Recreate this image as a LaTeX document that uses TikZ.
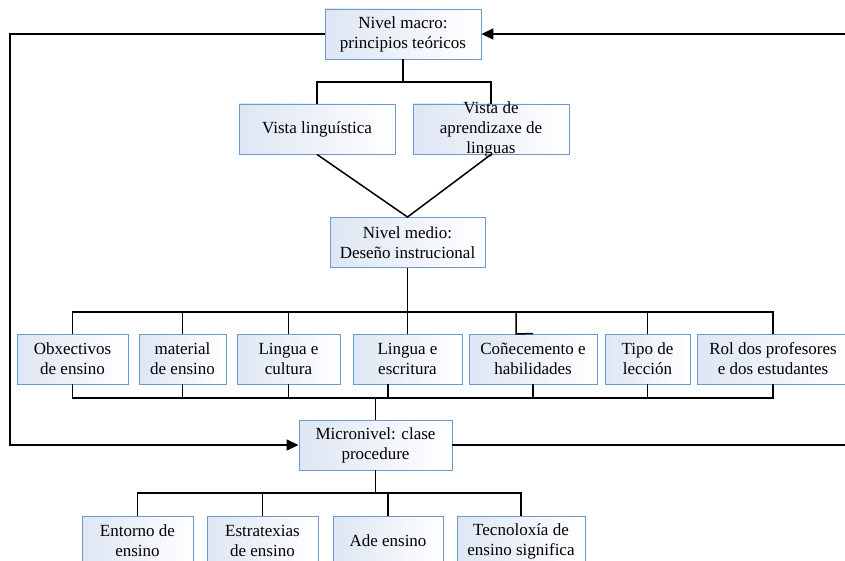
\documentclass[tikz,border=0pt]{standalone}
\usepackage{fontspec}
\setmainfont{Liberation Serif}
\usetikzlibrary{arrows.meta}
\definecolor{boxline}{HTML}{6A9AD0}
\definecolor{boxfill}{HTML}{DDE6F3}

\begin{document}
\begin{tikzpicture}
    [   x=1pt,y=-1pt,
        bfont/.style={font=\fontsize{17pt}{20pt}\selectfont},
        bnode/.style={draw=boxline,line width=0.9pt,left color=boxfill,right color=white,
            minimum width=#1,minimum height=50pt,inner sep=0pt,align=center,bfont},
        conn/.style={draw=black,line width=1.5pt},
        flow/.style={conn,-{Triangle[length=12pt,width=11pt]}},
    ]
        \useasboundingbox (0,0) rectangle (845,561);
        % levels
        \node[bnode=156] (macro) at (403,34) {Nivel macro:\\principios teóricos};
        \node[bnode=156] (vling) at (317,129) {Vista linguística};
        \node[bnode=156,label={[bfont,align=center]center:Vista de\\aprendizaxe de\\linguas}] (vapr) at (491,129) {};
        \node[bnode=155] (medio) at (407.5,242.5) {Nivel medio:\\Deseño instrucional};
        \node[bnode=153] (micro) at (375.5,445) {Micronivel: clase\\procedure};
        \foreach \i/\cx/\w/\txt in {1/72.5/111/{Obxectivos\\de ensino},2/182.5/87/{material\\de ensino},
            3/288.5/103/{Lingua e\\cultura},4/407.5/109/{Lingua e\\escritura},5/533/128/{Coñecemento e\\habilidades},
            6/647.5/85/{Tipo de\\lección},7/773/152/{Rol dos profesores\\e dos estudantes}}
        {   \node[bnode=\w] (r\i) at (\cx,359) {\txt};
        }
        \foreach \i/\cx/\w/\txt in {1/137.5/111/{Entorno de\\ensino},2/262.5/111/{Estratexias\\de ensino},
            3/388/110/{Ade ensino},4/521/128/{Tecnoloxía de\\ensino significa}}
        {   \node[bnode=\w] (b\i) at (\cx,541) {\txt};
        }
        % branches
        \coordinate (fork1) at (403,82);
        \coordinate (fork2) at (407.5,312);
        \coordinate (jog) at (516,334);
        \coordinate (escout) at (388,384);
        \coordinate (fork3) at (375.5,398);
        \coordinate (fork4) at (375.5,493);
        \draw[conn] (macro.south) -- (fork1) -| (vling.north);
        \draw[conn] (fork1) -| (vapr.north);
        \draw[conn] (vling.south) -- (medio.north) -- (vapr.south);
        \draw[conn] (medio.south) -- (fork2);
        \foreach \i in {1,2,3,4,6,7}
            \draw[conn] (fork2) -| (r\i.north);
        \draw[conn] (fork2) -| (jog) -- (r5.north);
        \foreach \i in {1,2,3,5,6,7}
            \draw[conn] (r\i.south) |- (fork3);
        \draw[conn] (escout) |- (fork3);
        \draw[conn] (fork3) -- (micro.north);
        \draw[conn] (micro.south) -- (fork4);
        \foreach \i in {1,...,4}
            \draw[conn] (fork4) -| (b\i.north);
        % feedback
        \coordinate (lft) at (10,0);
        \coordinate (rgt) at (850,0);
        \draw[flow] (macro.west) -| (lft |- micro.west) -- (micro.west);
        \draw[flow] (micro.east) -| (rgt |- macro.east) -- (macro.east);
    \end{tikzpicture}
\end{document}
